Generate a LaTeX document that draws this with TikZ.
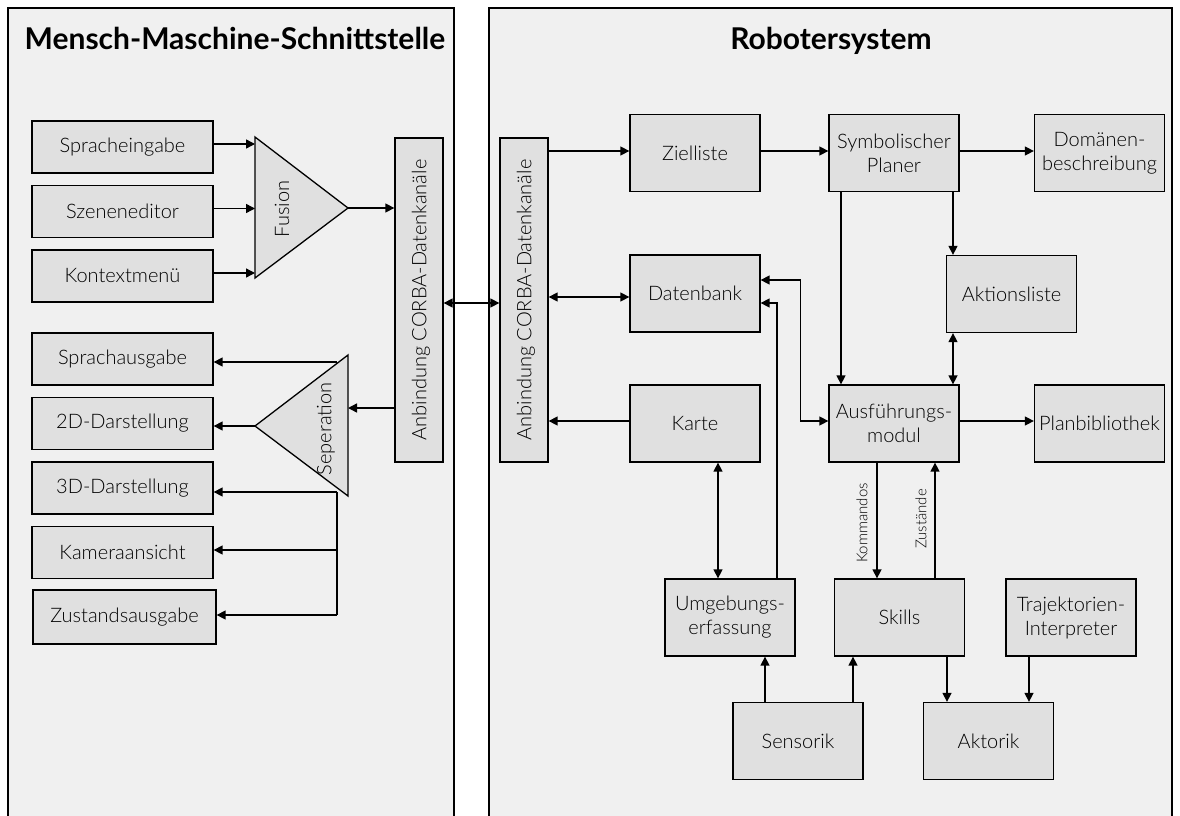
\documentclass[tikz,border=0pt]{standalone}
\usepackage{fontspec}
\IfFontExistsTF{Lato Light}{\setmainfont{Lato}[UprightFont=* Light, BoldFont=* Bold]}{\setmainfont{Lato}}
\usetikzlibrary{arrows.meta,calc}
\definecolor{panelgray}{HTML}{F0F0F0}
\definecolor{boxgray}{HTML}{E0E0E0}
\begin{document}
\begin{tikzpicture}[x=1pt,y=-1pt,
  box/.style={draw=black, line width=1.3pt, fill=boxgray, minimum width=130pt, minimum height=77pt, inner sep=0pt, align=center, font=\fontsize{20}{24}\selectfont},
  lbox/.style={box, minimum width=181pt, minimum height=52pt},
  vbox/.style={box, minimum width=48pt, minimum height=324pt},
  tri/.style={draw=black, line width=1.3pt, fill=boxgray},
  panel/.style={draw=black, line width=1.3pt, fill=panelgray},
  ttl/.style={font=\fontsize{30}{36}\selectfont\bfseries, anchor=base},
  vtxt/.style={rotate=90, font=\fontsize{20}{24}\selectfont},
  lbl/.style={font=\fontsize{15}{17}\selectfont, rotate=90},
  con/.style={line width=1.4pt},
  arr/.style={con, -{Triangle[length=9pt,width=9pt]}},
  darr/.style={con, {Triangle[length=9pt,width=9pt]}-{Triangle[length=9pt,width=9pt]}}]
\useasboundingbox (0,0) rectangle (1180,816);
\fill[white] (0,0) rectangle (1180,816);
\clip (0,0) rectangle (1180,816);
% panels
\draw[panel] (8,830) -- (8,8) -- (454,8) -- (454,830);
\draw[panel] (489,830) -- (489,8) -- (1172,8) -- (1172,830);
\node[ttl] (t1) at (235,50) {Mensch-Maschine-Schnittstelle};
\node[ttl] (t2) at (831,50) {Robotersystem};
% left boxes
\node[lbox] (spe) at (122.5,147) {Spracheingabe};
\node[lbox] (sze) at (122.5,211.5) {Szeneneditor};
\node[lbox] (kon) at (122.5,276) {Kontextmenü};
\node[lbox] (spa) at (122.5,359) {Sprachausgabe};
\node[lbox] (d2) at (122.5,423.5) {2D-Darstellung};
\node[lbox] (d3) at (122.5,488) {3D-Darstellung};
\node[lbox] (kam) at (122.5,552.5) {Kameraansicht};
\node[lbox, minimum width=183pt, minimum height=54pt] (zus) at (124.5,617) {Zustandsausgabe};
% CORBA boxes
\node[vbox] (lcorba) at (419,300) {};
\node[vtxt] (lct) at (421,300) {Anbindung CORBA-Datenkanäle};
\node[vbox] (rcorba) at (524,300) {};
\node[vtxt] (rct) at (526,300) {Anbindung CORBA-Datenkanäle};
% Fusion triangle
\coordinate (f1) at (255,137);
\coordinate (f2) at (255,278);
\coordinate (f3) at (348,208);
\draw[tri] (f1) -- (f3) -- (f2) -- cycle;
\node[vtxt] (fus) at (282,209) {Fusion};
% Seperation triangle
\coordinate (s1) at (348,355);
\coordinate (s2) at (348,496);
\coordinate (s3) at (255,426);
\draw[tri] (s1) -- (s2) -- (s3) -- cycle;
\node[vtxt] (sep) at (326,429) {Seperation};
% left connectors
\coordinate (spe1) at ([yshift=3pt]spe.east);
\coordinate (sze1) at ([yshift=3pt]sze.east);
\coordinate (kon1) at ([yshift=3pt]kon.east);
\draw[arr] (spe1) -- (spe1 -| f1);
\draw[arr] (sze1) -- (sze1 -| f1);
\draw[arr] (kon1) -- (kon1 -| f1);
\draw[arr] (f3) -- (f3 -| lcorba.west);
\coordinate (sin) at (348,408);
\draw[arr] (sin -| lcorba.west) -- (sin);
\coordinate (sb) at (337,362);
\coordinate (sd) at (337,492);
\coordinate (sc) at (337,550);
\coordinate (se) at (337,615);
\draw[arr] (sb) -- (sb -| spa.east);
\draw[arr] (s3) -- (s3 -| d2.east);
\draw[arr] (sd) -- (sd -| d3.east);
\draw[con] (sd) -- (se);
\draw[arr] (sc) -- (sc -| kam.east);
\draw[arr] (se) -- (se -| zus.east);
\coordinate (lc1) at ([yshift=-3pt]lcorba.east);
\draw[darr] (lc1) -- (lc1 -| rcorba.west);
% right boxes
\node[box] (ziel) at (695,153) {Zielliste};
\node[box] (sp) at (894,153) {Symbolischer\\Planer};
\node[box] (dom) at (1099.5,153) {Domänen-\\beschreibung};
\node[box] (db) at (695,293.5) {Datenbank};
\node[box] (akt) at (1011.5,294) {Aktionsliste};
\node[box] (ausf) at (894,423.5) {Ausführungs-\\modul};
\node[box] (plan) at (1099.5,423.5) {Planbibliothek};
\node[box] (karte) at (695,423.5) {Karte};
\node[box] (umg) at (730,617.5) {Umgebungs-\\erfassung};
\node[box] (skills) at (899.5,617.5) {Skills};
\node[box] (traj) at (1071,617.5) {Trajektorien-\\Interpreter};
\node[box] (sens) at (798,741) {Sensorik};
\node[box] (aktk) at (988.5,741) {Aktorik};
% right connectors
\coordinate (zw) at ([yshift=2pt]ziel.west);
\draw[arr] (zw -| rcorba.east) -- (zw);
\coordinate (ze) at ([yshift=2pt]ziel.east);
\draw[arr] (ze) -- (ze -| sp.west);
\coordinate (spe2) at ([yshift=2pt]sp.east);
\draw[arr] (spe2) -- (spe2 -| dom.west);
\coordinate (dbw) at ([yshift=-3.5pt]db.west);
\draw[darr] (dbw -| rcorba.east) -- (dbw);
\coordinate (kw) at ([yshift=2.5pt]karte.west);
\draw[arr] (kw) -- (kw -| rcorba.east);
\coordinate (ae) at ([yshift=2.5pt]ausf.east);
\draw[arr] (ae) -- (ae -| plan.west);
\coordinate (dbe1) at ([yshift=13.5pt]db.east);
\coordinate (aw) at ([yshift=2.5pt]ausf.west);
\draw[darr] (dbe1) -- ++(40,0) |- (aw);
\coordinate (dbe2) at ([yshift=-9.5pt]db.east);
\coordinate (un) at ([xshift=47pt]umg.north);
\draw[arr] (un) |- (dbe2);
\coordinate (sps1) at ([xshift=-53pt]sp.south);
\draw[arr] (sps1) -- (sps1 |- ausf.north);
\coordinate (sps2) at ([xshift=59pt]sp.south);
\draw[arr] (sps2) -- (sps2 |- akt.north);
\coordinate (an2) at ([xshift=59pt]ausf.north);
\draw[darr] (an2 |- akt.south) -- (an2);
\coordinate (as1) at ([xshift=-17pt]ausf.south);
\draw[arr] (as1) -- (as1 |- skills.north);
\node[lbl] (kom) at (862,523) {Kommandos};
\coordinate (as2) at ([xshift=41pt]ausf.south);
\draw[arr] (as2 |- skills.north) -- (as2);
\node[lbl] (zst) at (921,519) {Zustände};
\coordinate (ks) at ([xshift=23pt]karte.south);
\draw[darr] (ks) -- (ks |- umg.north);
\coordinate (sn1) at ([xshift=-33pt]sens.north);
\draw[arr] (sn1) -- (sn1 |- umg.south);
\coordinate (sn2) at ([xshift=55pt]sens.north);
\draw[arr] (sn2) -- (sn2 |- skills.south);
\coordinate (sks) at ([xshift=47.5pt]skills.south);
\draw[arr] (sks) -- (sks |- aktk.north);
\coordinate (tjs) at ([xshift=-42pt]traj.south);
\draw[arr] (tjs) -- (tjs |- aktk.north);
\end{tikzpicture}
\end{document}
